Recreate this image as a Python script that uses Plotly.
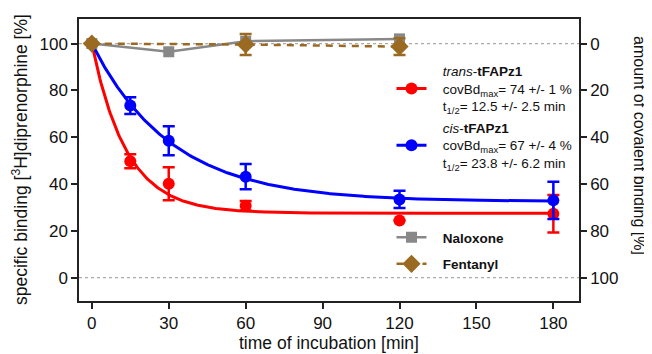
import numpy as np
import plotly.graph_objects as go

# ---------------- data ----------------
time_min = [0, 15, 30, 60, 120, 180]

trans_binding = [100, 49.7, 40.1, 30.7, 24.4, 27.3]
trans_err = [0, 3.0, 7.0, 2.0, 0, 8.0]

cis_binding = [100, 73.5, 58.5, 43.1, 33.4, 33.0]
cis_err = [0, 3.6, 6.2, 5.4, 3.7, 8.0]

naloxone_time = [0, 30, 60, 120]
naloxone_binding = [100, 96.5, 101.0, 102.0]

fentanyl_time = [0, 60, 120]
fentanyl_binding = [100, 99.6, 98.7]
fentanyl_err = [0, 4.5, 3.6]

# one-phase decay fit curves (plateau %, half-life min) as drawn
trans_fit = {"plateau": 27.5, "half_life": 9.4}
cis_fit = {"plateau": 32.5, "half_life": 21.5}

reference_levels = [0, 100]

x_ticks = [0, 30, 60, 90, 120, 150, 180]
y_ticks = [0, 20, 40, 60, 80, 100]

PAD = "&nbsp;&nbsp;&nbsp;"
trans_label = (PAD + "<i>trans</i>-<b>tFAPz1</b><br>" + PAD + "covBd<sub>max</sub>= 74 +/- 1 %<br>"
               + PAD + "t<sub>1/2</sub>= 12.5 +/- 2.5 min")
cis_label = (PAD + "<i>cis</i>-<b>tFAPz1</b><br>" + PAD + "covBd<sub>max</sub>= 67 +/- 4 %<br>"
             + PAD + "t<sub>1/2</sub>= 23.8 +/- 6.2 min")
naloxone_label = PAD + "<b>Naloxone</b>"
fentanyl_label = PAD + "<b>Fentanyl</b>"

# ---------------- styles ----------------
RED = "#ff0000"
BLUE = "#0000ff"
GRAY = "#888888"
BROWN = "#9a6a22"
FONT = "Arial, Liberation Sans, Helvetica, sans-serif"


def decay(t, p):
    k = np.log(2) / p["half_life"]
    return p["plateau"] + (100 - p["plateau"]) * np.exp(-k * t)


t_grid = np.linspace(0, max(time_min), 400)

fig = go.Figure()

# trans
fig.add_trace(go.Scatter(x=t_grid, y=decay(t_grid, trans_fit), mode="lines",
                         line=dict(color=RED, width=3), showlegend=False, hoverinfo="skip"))
fig.add_trace(go.Scatter(x=time_min, y=trans_binding, mode="markers",
                         marker=dict(color=RED, size=12, symbol="circle"),
                         error_y=dict(type="data", array=trans_err, color=RED, thickness=2.5, width=6),
                         showlegend=False))
# cis
fig.add_trace(go.Scatter(x=t_grid, y=decay(t_grid, cis_fit), mode="lines",
                         line=dict(color=BLUE, width=3), showlegend=False, hoverinfo="skip"))
fig.add_trace(go.Scatter(x=time_min, y=cis_binding, mode="markers",
                         marker=dict(color=BLUE, size=12, symbol="circle"),
                         error_y=dict(type="data", array=cis_err, color=BLUE, thickness=2.5, width=6),
                         showlegend=False))
# naloxone
fig.add_trace(go.Scatter(x=naloxone_time, y=naloxone_binding, mode="lines+markers",
                         name=naloxone_label, legend="legend2", legendgroup="nal",
                         line=dict(color=GRAY, width=2.5),
                         marker=dict(color=GRAY, size=11, symbol="square")))
# fentanyl
fig.add_trace(go.Scatter(x=fentanyl_time, y=fentanyl_binding, mode="lines+markers",
                         name=fentanyl_label, legend="legend2", legendgroup="fen",
                         line=dict(color=BROWN, width=2.5, dash="7px,6px"),
                         marker=dict(color=BROWN, size=14, symbol="diamond"),
                         error_y=dict(type="data", array=fentanyl_err, color=BROWN, thickness=2.5, width=6)))

# legend proxies for fitted series
fig.add_trace(go.Scatter(x=[None], y=[None], mode="lines+markers", name=trans_label, legendgroup="tr",
                         line=dict(color=RED, width=3), marker=dict(color=RED, size=12), legend="legend"))
fig.add_trace(go.Scatter(x=[None], y=[None], mode="lines+markers", name=cis_label, legendgroup="ci",
                         line=dict(color=BLUE, width=3), marker=dict(color=BLUE, size=12), legend="legend"))

# invisible trace on the right axis so it renders
fig.add_trace(go.Scatter(x=[None], y=[None], yaxis="y2", showlegend=False))

for lv in reference_levels:
    fig.add_shape(type="line", xref="paper", x0=0, x1=1, yref="y", y0=lv, y1=lv,
                  line=dict(color="#aaaaaa", width=1.2, dash="dot"), layer="below")

axis_common = dict(showline=True, linecolor="#222222", linewidth=1.5, ticks="outside",
                   ticklen=6, tickwidth=1.5, tickcolor="#222222", showgrid=False, zeroline=False,
                   tickfont=dict(family=FONT, size=17, color="#111111"))

# page has an 8px body margin: the figure is sized/placed to compensate
fig.update_layout(
    width=644, height=346,
    margin=dict(l=71, r=73, t=9, b=53),
    plot_bgcolor="white", paper_bgcolor="white",
    font=dict(family=FONT, size=13.5, color="#111111"),
    xaxis=dict(range=[-5, 190], tickvals=x_ticks, mirror=True, **axis_common),
    yaxis=dict(range=[-10, 110.5], tickvals=y_ticks, mirror=True, **axis_common),
    yaxis2=dict(range=[110, -10.5], tickvals=y_ticks, overlaying="y", side="right", **axis_common),
    legend=dict(x=0.625, xanchor="left", y=0.87, yanchor="top", bgcolor="rgba(0,0,0,0)",
                valign="middle", font=dict(family=FONT, size=13.5), itemwidth=30,
                tracegroupgap=1, traceorder="grouped"),
    legend2=dict(x=0.625, xanchor="left", y=0.28, yanchor="top", bgcolor="rgba(0,0,0,0)",
                 valign="middle", font=dict(family=FONT, size=13.5), itemwidth=30,
                 tracegroupgap=6, traceorder="grouped"),
    showlegend=True,
    annotations=[
        dict(text="time of incubation [min]", xref="paper", yref="paper", x=0.5, y=-0.148,
             xanchor="center", yanchor="middle", showarrow=False, font=dict(family=FONT, size=17.5)),
        dict(text="specific binding [<sup>3</sup>H]diprenorphine [%]", xref="paper", yref="paper",
             x=-0.118, y=0.5, xanchor="center", yanchor="middle", textangle=-90, showarrow=False,
             font=dict(family=FONT, size=17.5)),
        dict(text="amount of covalent binding [%]", xref="paper", yref="paper",
             x=1.122, y=0.553, xanchor="center", yanchor="middle", textangle=90, showarrow=False,
             font=dict(family=FONT, size=16)),
    ],
)

fig.write_html("out.html")
